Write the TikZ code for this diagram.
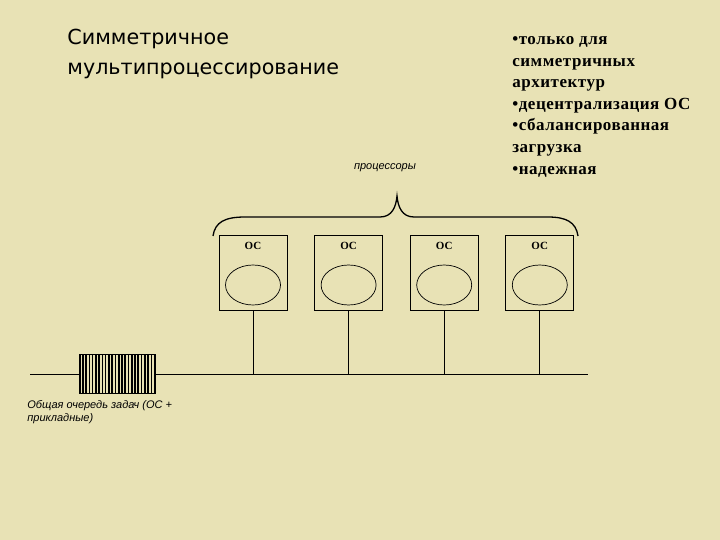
\documentclass[tikz,border=0pt]{standalone}
\usepackage{fontspec}
\setmainfont{Liberation Serif}
\newfontfamily\titlefont{DejaVu Sans}
\newfontfamily\notefont{Liberation Sans}
\newfontfamily\propfont[LetterSpace=3]{Liberation Serif}
\usetikzlibrary{positioning,shapes.geometric,calc}
\definecolor{paper}{RGB}{232,226,181}
\tikzstyle{cpu}=[draw, minimum width=68pt, minimum height=75pt, inner sep=0, line width=0.8pt]
\tikzstyle{disk}=[draw, ellipse, minimum width=55pt, minimum height=40pt, inner sep=0, line width=0.7pt]
\tikzstyle{oslabel}=[font=\bfseries\fontsize{11}{11}\selectfont, inner sep=0]
\tikzstyle{note}=[font=\notefont\itshape\fontsize{11}{13}\selectfont, inner sep=0, align=left]

\begin{document}
\begin{tikzpicture}[x=1pt,y=-1pt,line width=0.8pt]
                    \fill[paper] (0,0) rectangle (720,540);
                    \useasboundingbox (0,0) rectangle (720,540);

                    \node [anchor=base west, inner sep=0, align=left, font=\titlefont\fontsize{20.7}{30}\selectfont] (title) at (67,75) {Симметричное\\мультипроцессирование};
                    \node [anchor=north west, inner sep=0, align=left, font=\propfont\bfseries\fontsize{17}{21.6}\selectfont] (props) at (512,36) {•только для\\симметричных\\архитектур\\•децентрализация ОС\\•сбалансированная\\загрузка\\•надежная};

                    \node [note] (cpus) at (385,168) {процессоры};

                    \node [cpu] (os1) at (253,272.5) {};
                    \node [cpu] (os2) [right=26.8pt of os1] {};
                    \node [cpu] (os3) [right=26.8pt of os2] {};
                    \node [cpu] (os4) [right=26.8pt of os3] {};
                    \foreach \i in {1,...,4} {
                        \node [oslabel] (t\i) [below=7pt of os\i.north] {ОС};
                        \node [disk] (d\i) at ([yshift=-12.5pt]os\i.center) {};
                    }

                    % brace over the processors
                    \draw [line width=1.3pt] (213,236) .. controls (215,222) and (225,217) .. (245,217) -- (380,217)
                        .. controls (392,217) and (396,207) .. (397,196) .. controls (398,207) and (402,217) .. (414,217)
                        -- (548,217) .. controls (566,217) and (576,222) .. (578,236);

                    % task queue
                    \node [draw, minimum width=75pt, minimum height=39pt, inner sep=0] (q) at (117.5,374) {};
                    \foreach \k in {0,...,23}
                        \draw [line width=1.6pt] ($(q.south west)+(\k*3.26,0)$) -- ($(q.north west)+(\k*3.26,0)$);
                    \node [note, anchor=north west] (qtext) at (27,400) {Общая очередь задач (ОС +\\прикладные)};

                    \coordinate (qin) at (30,374);
                    \coordinate (busend) at (588,374);
                    \draw (qin) -- (q.west);
                    \draw (q.east) -- (busend);
                    \foreach \i in {1,...,4}
                        \draw (os\i.south) -- (os\i.south |- busend);
                \end{tikzpicture}
\end{document}
